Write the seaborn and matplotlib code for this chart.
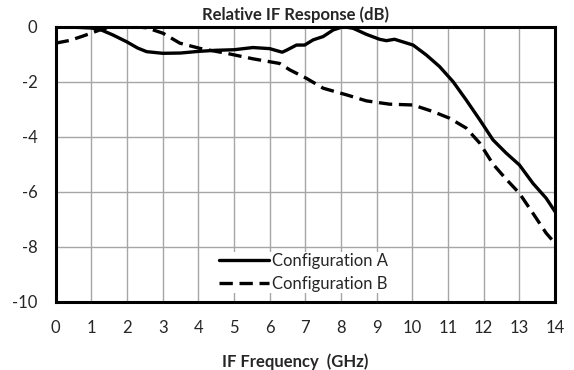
import numpy as np
import pandas as pd
import seaborn as sns
import matplotlib
matplotlib.use("Agg")
import matplotlib.pyplot as plt

# readings from the reference curve (GHz, dB)
freq_a = [0.0, 0.5, 1.0, 1.24, 1.6, 1.99, 2.3, 2.55, 3.0, 3.5, 4.0, 4.5, 5.0, 5.53,
          6.0, 6.35, 6.47, 6.75, 6.98, 7.22, 7.5, 7.78, 8.06, 8.34, 8.71, 9.08, 9.27,
          9.5, 10.02, 10.39, 10.76, 11.14, 11.51, 11.89, 12.26, 12.63, 13.0, 13.38,
          13.75, 14.0]
resp_a = [0.0, -0.02, -0.05, -0.1, -0.3, -0.55, -0.78, -0.91, -0.97, -0.96, -0.9, -0.86,
          -0.84, -0.76, -0.8, -0.93, -0.86, -0.67, -0.67, -0.48, -0.36, -0.12, 0.0, -0.06,
          -0.28, -0.46, -0.51, -0.46, -0.67, -1.03, -1.45, -2.0, -2.67, -3.39, -4.12,
          -4.6, -5.03, -5.7, -6.24, -6.73]

freq_b = [0.0, 0.4, 0.77, 1.24, 1.5, 2.17, 2.55, 3.01, 3.48, 4.04, 4.79, 5.53, 6.28,
          6.56, 7.03, 7.5, 8.15, 8.71, 9.36, 10.02, 10.58, 11.04, 11.51, 11.89, 12.26,
          12.63, 13.0, 13.38, 13.75, 14.0]
resp_b = [-0.6, -0.5, -0.34, -0.12, -0.02, 0.0, -0.04, -0.24, -0.6, -0.79, -0.97, -1.17,
          -1.34, -1.57, -1.88, -2.24, -2.48, -2.7, -2.82, -2.85, -3.09, -3.33, -3.69,
          -4.24, -5.0, -5.55, -6.06, -6.79, -7.51, -7.88]

sns.set_style("white")
plt.rcParams['font.family'] = ['Lato', 'DejaVu Sans']
plt.rcParams['axes.unicode_minus'] = False

fig = plt.figure(figsize=(5.74, 3.70), dpi=100)
ax = fig.add_axes([0.097, 0.185, 0.870, 0.743])

df_a = pd.DataFrame({'f': freq_a, 'r': resp_a})
df_b = pd.DataFrame({'f': freq_b, 'r': resp_b})
sns.lineplot(data=df_a, x='f', y='r', ax=ax, color='black', lw=2.4,
             label='Configuration A', zorder=3)
sns.lineplot(data=df_b, x='f', y='r', ax=ax, color='black', lw=2.4,
             label='Configuration B', zorder=3)
ax.lines[1].set_dashes((4, 2))

ax.set_xlim(0, 14)
ax.set_ylim(-10, 0)
ax.set_xticks(np.arange(0, 15, 1))
ax.set_yticks(np.arange(-10, 1, 2))
ax.grid(True, color='#a6a6a6', lw=1)
ax.set_axisbelow(True)
for s in ax.spines.values():
    s.set_color('black')
    s.set_linewidth(2.2)
ax.tick_params(axis='x', length=0, labelsize=12, pad=13)
ax.tick_params(axis='y', length=0, labelsize=12, pad=13)

ax.set_title('Relative IF Response (dB)', fontsize=12, fontweight='bold', pad=5, x=0.48)
ax.set_xlabel('IF Frequency  (GHz)', fontsize=12, fontweight='bold', labelpad=13, x=0.48)
ax.set_ylabel('')

leg = ax.legend(loc='lower center', bbox_to_anchor=(0.496, 0.0), frameon=True,
                fontsize=12, handlelength=3.0, handletextpad=0.2, borderpad=0.08,
                labelspacing=0.42)
leg.get_frame().set_edgecolor('none')
leg.get_frame().set_facecolor('white')
leg.get_frame().set_alpha(1)

fig.savefig('out.png', dpi=100)
